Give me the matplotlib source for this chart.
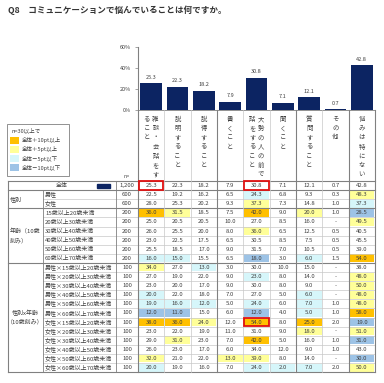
import matplotlib.pyplot as plt
from matplotlib.patches import Rectangle

plt.rcParams["font.family"] = ["Noto Sans CJK JP", "DejaVu Sans"]

TITLE = "Q8　コミュニケーションで悩んでいることは何ですか。"

CATEGORIES = [
    "雑談・会話をすること", "説明すること", "説得すること", "書くこと",
    "大勢の人の前で話をすること", "聞くこと", "質問すること", "その他", "悩みは特にない",
]
# vertical header text, right column first
HEADER_COLS = [
    ["雑談・会話をす", "ること"], ["説明すること"], ["説得すること"], ["書くこと"],
    ["大勢の人の前で", "話をすること"], ["聞くこと"], ["質問すること"], ["その他"],
    ["悩みは特にない"],
]

TOTAL_N = 1200
TOTAL = [25.3, 22.3, 18.2, 7.9, 30.8, 7.1, 12.1, 0.7, 42.8]

GENDER_LABELS = ["男性", "女性"]
GENDER_N = [600, 600]
GENDER_VALUES = [
    [22.5, 19.2, 16.2, 6.5, 24.3, 6.8, 9.3, 0.3, 48.3],
    [28.0, 25.3, 20.2, 9.3, 37.3, 7.3, 14.8, 1.0, 37.3],
]

AGE_LABELS = [
    "15歳以上20歳未満", "20歳以上30歳未満", "30歳以上40歳未満",
    "40歳以上50歳未満", "50歳以上60歳未満", "60歳以上70歳未満",
]
AGE_N = [200, 200, 200, 200, 200, 200]
AGE_VALUES = [
    [36.0, 31.5, 18.5, 7.5, 42.0, 9.0, 20.0, 1.0, 28.5],
    [25.0, 20.5, 20.5, 10.0, 27.0, 8.5, 16.0, None, 49.5],
    [26.0, 25.5, 20.0, 8.0, 36.0, 6.5, 12.5, 0.5, 40.5],
    [23.0, 22.5, 17.5, 6.5, 30.5, 8.5, 7.5, 0.5, 45.5],
    [25.5, 18.5, 17.0, 9.0, 31.5, 7.0, 10.5, 0.5, 39.0],
    [16.0, 15.0, 15.5, 6.5, 18.0, 3.0, 6.0, 1.5, 54.0],
]

GA_LABELS = ["男性×" + a for a in AGE_LABELS] + ["女性×" + a for a in AGE_LABELS]
GA_N = [100] * 12
GA_VALUES = [
    [34.0, 27.0, 13.0, 3.0, 30.0, 10.0, 15.0, None, 38.0],
    [27.0, 19.0, 22.0, 9.0, 23.0, 8.0, 14.0, None, 48.0],
    [23.0, 20.0, 17.0, 9.0, 30.0, 8.0, 9.0, None, 50.0],
    [20.0, 22.0, 18.0, 7.0, 27.0, 5.0, 6.0, None, 48.0],
    [19.0, 16.0, 12.0, 5.0, 24.0, 6.0, 7.0, 1.0, 48.0],
    [12.0, 11.0, 15.0, 6.0, 12.0, 4.0, 5.0, 1.0, 58.0],
    [38.0, 36.0, 24.0, 12.0, 54.0, 8.0, 25.0, 2.0, 19.0],
    [23.0, 22.0, 19.0, 11.0, 31.0, 9.0, 18.0, None, 51.0],
    [29.0, 31.0, 23.0, 7.0, 42.0, 5.0, 16.0, 1.0, 31.0],
    [26.0, 23.0, 17.0, 6.0, 34.0, 12.0, 9.0, 1.0, 43.0],
    [32.0, 21.0, 22.0, 13.0, 39.0, 8.0, 14.0, None, 30.0],
    [20.0, 19.0, 16.0, 7.0, 24.0, 2.0, 7.0, 2.0, 50.0],
]

LEGEND_LABELS = ["全体＋10pt以上", "全体＋5pt以上", "全体－5pt以下", "全体－10pt以下"]
# (row index, column index) of highlighted cells
RED_CELLS = [(0, 0), (0, 4), (15, 4)]

NAVY = "#0c2462"
C_ORANGE = "#ffc000"
C_YELLOW = "#ffff99"
C_CYAN = "#d6f6fa"
C_BLUE = "#9dc3e6"
TXT = "#404040"
LIGHT = "#c8c8c8"
DARK = "#808080"

# layout in pixels
W, H = 384, 383
X0 = 138.0
COL_W = 26.33
NCOL = len(CATEGORIES)
X_END = X0 + COL_W * NCOL
ROW_TOP = 181.0
ROW_H = 9.1
Y_ZERO = 110.0
FS = 4.3


def cell_color(v, base):
    if v is None:
        return None
    d = v - base
    if d >= 10:
        return C_ORANGE
    if d >= 5:
        return C_YELLOW
    if d <= -10:
        return C_BLUE
    if d <= -5:
        return C_CYAN
    return None


fig = plt.figure(figsize=(W / 100, H / 100), dpi=100)
tab = fig.add_axes([0, 0, 1, 1])
tab.set_xlim(0, W)
tab.set_ylim(H, 0)
tab.axis("off")

tab.text(8, 10, TITLE, fontsize=6.2, fontweight="bold", color="#333333",
         ha="left", va="center")

# rows
rows = [("全体", TOTAL_N, TOTAL)]
rows += list(zip(GENDER_LABELS, GENDER_N, GENDER_VALUES))
rows += list(zip(AGE_LABELS, AGE_N, AGE_VALUES))
rows += list(zip(GA_LABELS, GA_N, GA_VALUES))
group_breaks = [0, 1, 3, 9, len(rows)]

for i, (label, n, vals) in enumerate(rows):
    top = ROW_TOP + i * ROW_H
    yc = top + ROW_H / 2
    if i == 0:
        tab.text(62, yc, label, fontsize=FS, color=TXT, ha="center", va="center")
        tab.add_patch(Rectangle((97, yc - 2), 13, 4, color=NAVY))
    else:
        tab.text(45, yc, label, fontsize=FS, color=TXT, ha="left", va="center")
    tab.text(127, yc, f"{n:,}", fontsize=FS, color=TXT, ha="center", va="center")
    for j, v in enumerate(vals):
        x = X0 + j * COL_W
        c = cell_color(v, TOTAL[j]) if i > 0 else None
        if c:
            tab.add_patch(Rectangle((x + 0.8, top + 0.6), COL_W - 1.6, ROW_H - 1.2,
                                    color=c, lw=0))
        s = "-" if v is None else f"{v:.1f}"
        tab.text(x + COL_W / 2, yc, s, fontsize=FS, color=TXT,
                 ha="center", va="center")

# group labels
tab.text(10, ROW_TOP + 2 * ROW_H, "性別", fontsize=FS, color=TXT, va="center")
tab.text(10, ROW_TOP + 6 * ROW_H - 4.5, "年齢（10歳", fontsize=FS, color=TXT, va="center")
tab.text(10, ROW_TOP + 6 * ROW_H + 4.5, "刻み）", fontsize=FS, color=TXT, va="center")
tab.text(25, ROW_TOP + 15 * ROW_H - 4.5, "性別x年齢", fontsize=FS, color=TXT,
         ha="center", va="center")
tab.text(25, ROW_TOP + 15 * ROW_H + 4.5, "（10歳刻み）", fontsize=FS, color=TXT,
         ha="center", va="center")

# table lines
y_bot = ROW_TOP + len(rows) * ROW_H
for i in range(len(rows) + 1):
    y = ROW_TOP + i * ROW_H
    if i in group_breaks:
        tab.plot([8, X_END], [y, y], color=DARK, lw=0.8)
    else:
        tab.plot([43, X_END], [y, y], color=LIGHT, lw=0.5)
tab.plot([8, 8], [ROW_TOP, y_bot], color=DARK, lw=0.8)
tab.plot([43, 43], [ROW_TOP + ROW_H, y_bot], color=DARK, lw=0.6)
tab.plot([116, 116], [ROW_TOP, y_bot], color=DARK, lw=0.6)
tab.plot([X0, X_END], [Y_ZERO, Y_ZERO], color=DARK, lw=0.6)
for k in range(NCOL + 1):
    x = X0 + k * COL_W
    tab.plot([x, x], [Y_ZERO, y_bot], color=DARK if k in (0, 3, 6, 8, 9) else LIGHT,
             lw=0.8 if k in (0, 3, 6, 8, 9) else 0.5)

# vertical header labels
for j, cols in enumerate(HEADER_COLS):
    xc = X0 + j * COL_W + COL_W / 2
    offs = [0.0] if len(cols) == 1 else [4.3, -4.3]
    for line, dx in zip(cols, offs):
        for k, ch in enumerate(line):
            tab.text(xc + dx, 119 + k * 9.2, ch, fontsize=FS + 0.3, color=TXT,
                     ha="center", va="center")
tab.text(127, 177, "n=", fontsize=FS - 0.5, color=TXT, ha="center", va="center")

# red highlight boxes
for r, c in RED_CELLS:
    tab.add_patch(Rectangle((X0 + c * COL_W + 1, ROW_TOP + r * ROW_H + 0.4),
                            COL_W - 2, ROW_H - 0.8, fill=False,
                            edgecolor="#e01010", lw=1.3, zorder=5))

# legend
tab.add_patch(Rectangle((7, 124), 62, 52, facecolor="white", edgecolor=DARK, lw=0.6))
tab.text(11, 130, "n=30以上で", fontsize=FS - 0.3, color=TXT, va="center")
for k, (lab, col) in enumerate(zip(LEGEND_LABELS,
                                   [C_ORANGE, C_YELLOW, C_CYAN, C_BLUE])):
    y = 140 + k * 9.3
    tab.add_patch(Rectangle((10, y - 3.5), 9, 7, color=col, lw=0))
    tab.text(22, y, lab, fontsize=FS - 0.3, color=TXT, va="center")

# bar chart
ax = fig.add_axes([X0 / W, 1 - Y_ZERO / H, (X_END - X0) / W, (Y_ZERO - 47) / H])
xs = list(range(NCOL))
ax.bar(xs, TOTAL, width=0.82, color=NAVY)
for x, v in zip(xs, TOTAL):
    ax.annotate(f"{v:.1f}", (x, v), xytext=(0, 2.5), textcoords="offset points",
                ha="center", va="bottom", fontsize=FS - 0.3, color=TXT)
ax.set_xlim(-0.5, NCOL - 0.5)
ax.set_ylim(0, 60)
ax.set_yticks([0, 20, 40, 60])
ax.set_yticklabels(["0%", "20%", "40%", "60%"])
ax.set_xticks([])
ax.tick_params(axis="y", labelsize=FS - 0.3, labelcolor=TXT, length=2,
               width=0.5, color=DARK, pad=3)
for s in ("top", "right", "bottom"):
    ax.spines[s].set_visible(False)
ax.spines["left"].set_color(DARK)
ax.spines["left"].set_linewidth(0.8)
ax.patch.set_alpha(0)

fig.savefig("out.png", dpi=100)
